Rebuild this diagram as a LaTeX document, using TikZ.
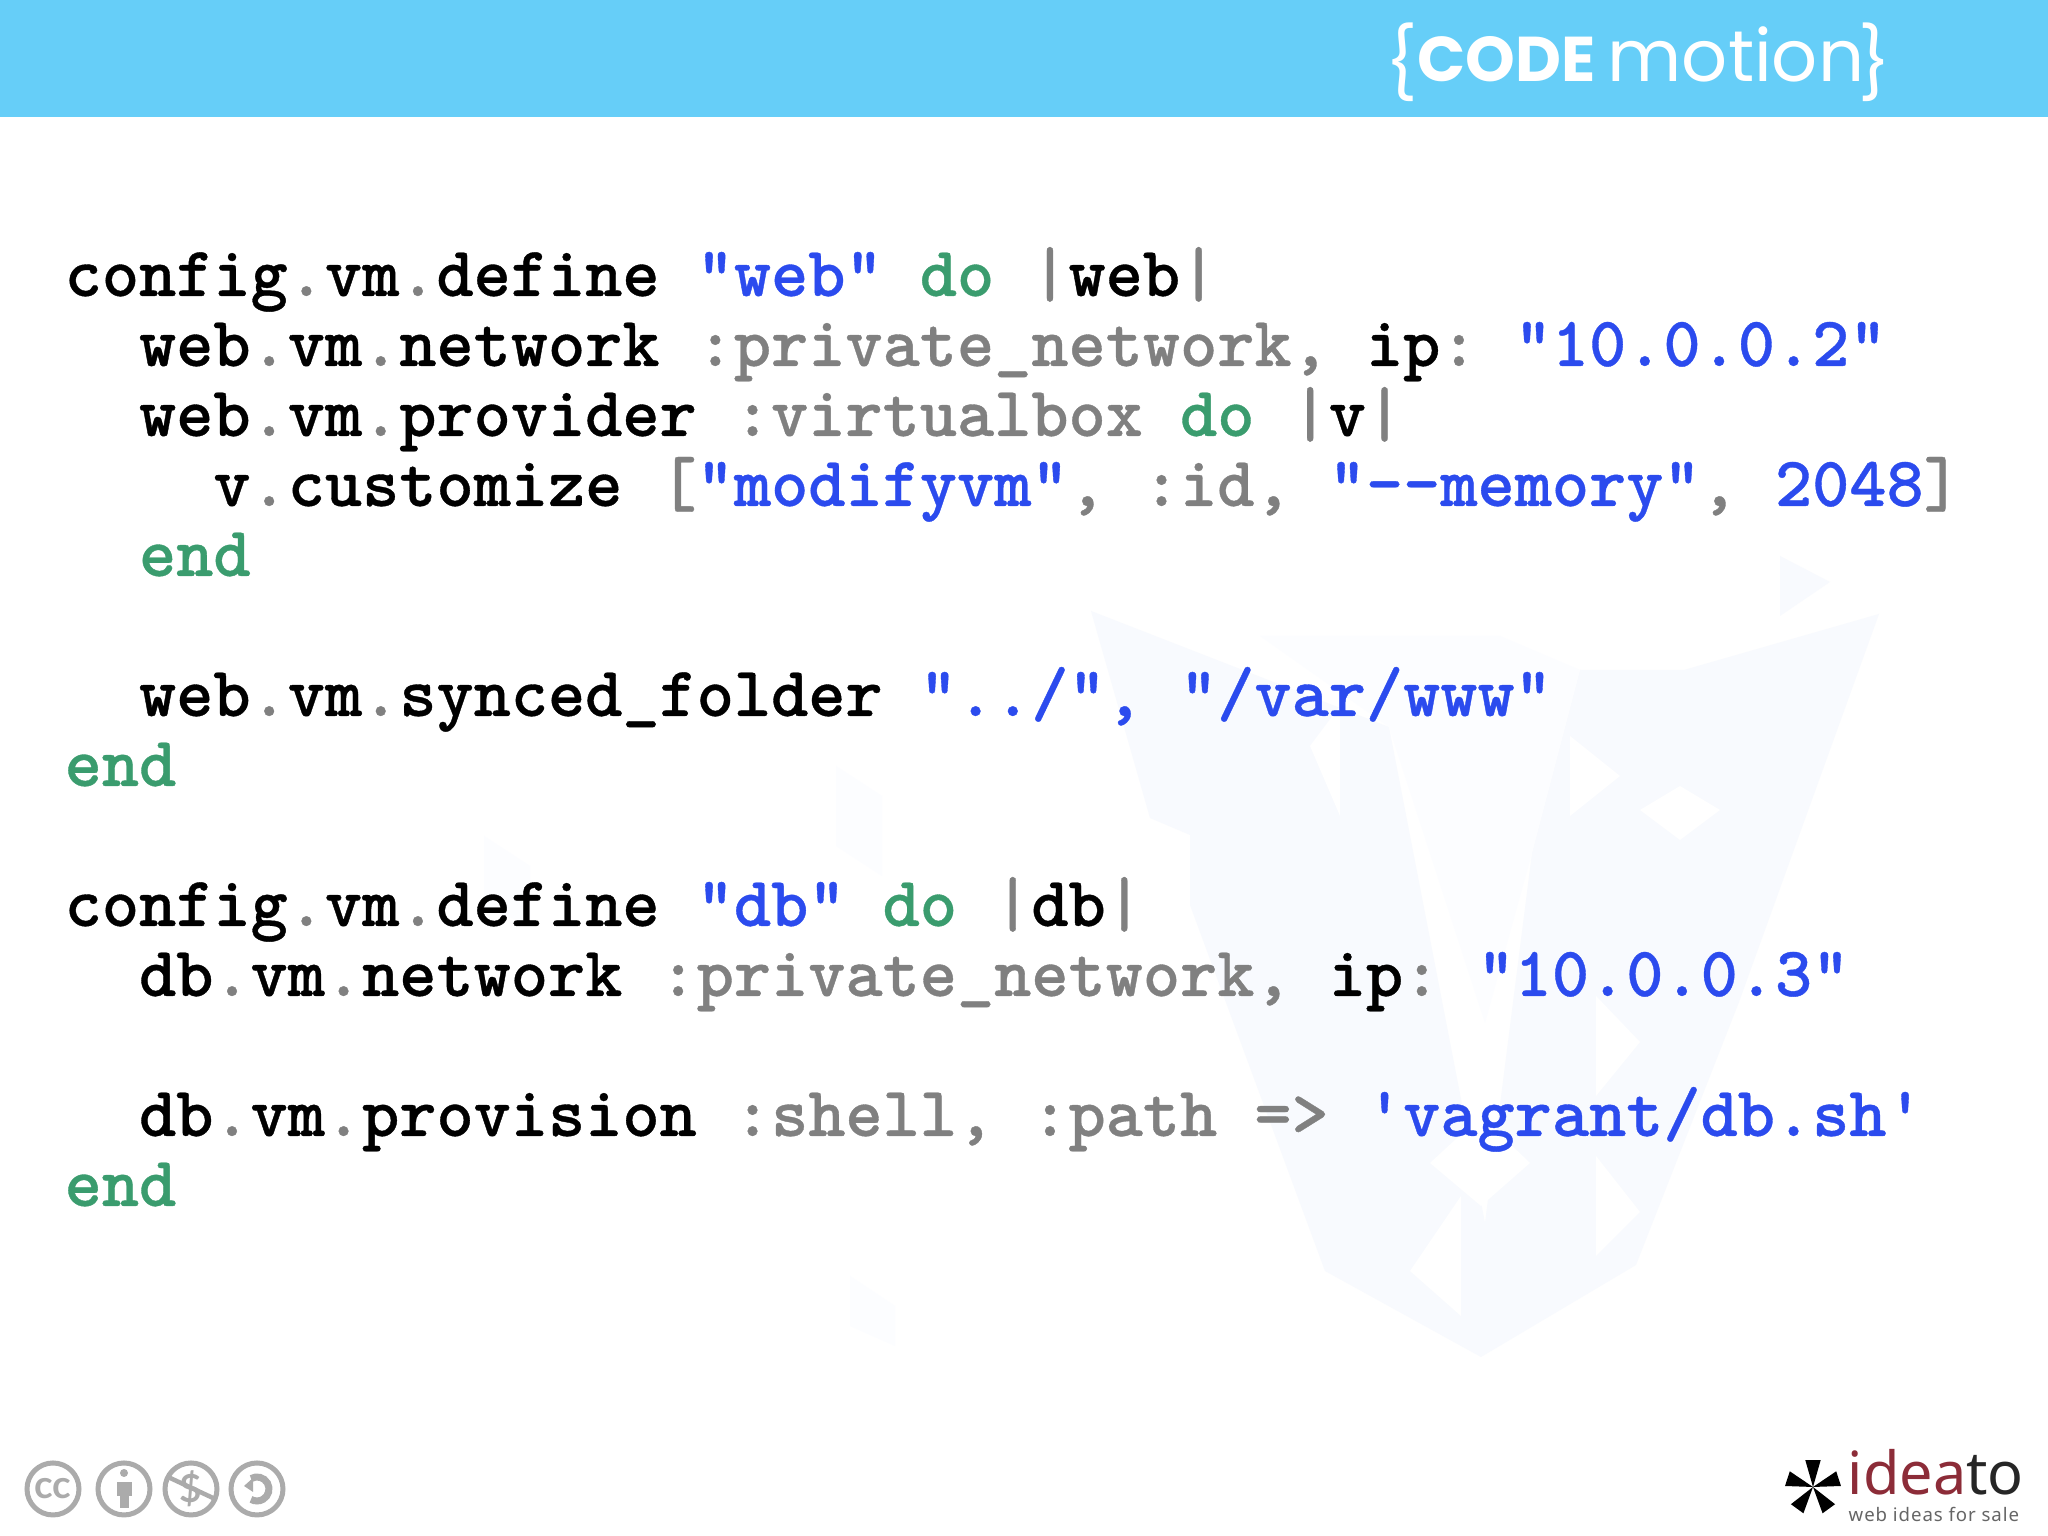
\documentclass[tikz,border=0pt]{standalone}
\usepackage{fontspec}
\setsansfont{Lato}
\setmonofont{Latin Modern Mono Light}[BoldFeatures={FakeBold=0.5}]
\newfontfamily\logofont{Poppins}
\newfontfamily\ideatofont{Noto Sans}
\definecolor{bandblue}{HTML}{66CEF8}
\definecolor{strblue}{HTML}{2B4BEE}
\definecolor{kwgreen}{HTML}{3A9C6E}
\definecolor{pugray}{HTML}{808080}
\definecolor{iconGray}{HTML}{ABABAB}
\definecolor{ideatored}{HTML}{8C2C38}
\definecolor{markA}{HTML}{F8FAFE}
\definecolor{markB}{HTML}{FCFDFF}
\newcommand{\pu}[1]{\textcolor{pugray}{#1}}
\newcommand{\st}[1]{\textcolor{strblue}{#1}}
\newcommand{\kw}[1]{\textcolor{kwgreen}{#1}}
\newcommand{\dt}{\pu{.}}
\tikzset{
  codeline/.style={anchor=base west,inner sep=0pt,font=\fontsize{20.15}{24}\selectfont\ttfamily\bfseries},
  logotext/.style={inner sep=0pt,text=white,anchor=base west},
  ccicon/.style={draw=iconGray,line width=0.5mm},
  ccfill/.style={fill=iconGray},
  whitemark/.style={fill=white,draw=none}
}
\begin{document}
\begin{tikzpicture}
\useasboundingbox (0,0) rectangle (20.48,15.36);
\fill[white] (0,0) rectangle (20.48,15.36);
% watermark
\fill[markA] (10.91,9.25) -- (11.50,7.18) -- (11.90,7.01) -- (11.90,6.31) -- (13.25,2.65) -- (14.81,1.79) -- (16.36,2.71) -- (17.39,5.34) -- (18.79,9.22) -- (16.84,8.66) -- (15.80,8.66) -- (15.32,6.83) -- (14.85,3.13) -- (13.89,8.09) -- cycle;
\fill[markB] (12.6,9.0) -- (13.89,8.09) -- (14.85,5.13) -- (15.32,6.83) -- (15.8,8.66) -- (15.0,9.0) -- cycle;
\fill[whitemark] (16.8,7.5) -- (17.2,7.26) -- (16.8,6.96) -- (16.4,7.26) -- cycle;
\fill[whitemark] (13.1,7.9) -- (13.4,8.3) -- (13.4,7.2) -- cycle;
\fill[whitemark] (15.7,8.0) -- (16.2,7.6) -- (15.7,7.2) -- cycle;
\fill[whitemark] (15.96,5.4) -- (16.4,4.94) -- (15.96,4.4) -- cycle;
\fill[whitemark] (14.81,4.2) -- (15.3,3.73) -- (14.81,3.3) -- (14.3,3.73) -- cycle;
\fill[whitemark] (15.96,3.8) -- (16.4,3.24) -- (15.96,2.8) -- cycle;
\fill[whitemark] (14.61,3.4) -- (14.61,2.2) -- (14.1,2.65) -- cycle;
\fill[markA] (17.8,9.8) -- (18.3,9.54) -- (17.8,9.2) -- cycle;
\fill[markB] (8.36,7.7) -- (8.82,7.4) -- (8.82,6.6) -- (8.36,6.9) -- cycle;
\fill[markB] (4.84,7.0) -- (5.3,6.7) -- (5.3,6.1) -- (4.84,6.3) -- cycle;
\fill[markB] (8.5,2.6) -- (8.95,2.3) -- (8.95,1.9) -- (8.5,2.1) -- cycle;
% top band
\fill[bandblue] (0,14.19) rectangle (20.48,15.36);
\node[logotext,anchor=center,font=\logofont\fontsize{20}{20}\selectfont] (bopen) at (14.02,14.74) {\{};
\node[logotext,font=\logofont\bfseries\fontsize{18}{18}\selectfont] (logocode) at (14.17,14.54) {CODE};
\node[logotext,font=\logofont\fontsize{20.5}{20.5}\selectfont] (logomotion) at (16.07,14.54) {motion};
\node[logotext,anchor=center,font=\logofont\fontsize{20}{20}\selectfont] (bclose) at (18.75,14.74) {\}};
% code
\node[codeline] (l1) at (0.64,12.40) {config\dt vm\dt define \st{"web"} \kw{do} \pu{|}web\pu{|}};
\node[codeline] (l2) at (0.64,11.70) {\ \ web\dt vm\dt network \pu{:private\_network,} ip\pu{:} \st{"10.0.0.2"}};
\node[codeline] (l3) at (0.64,11.00) {\ \ web\dt vm\dt provider \pu{:virtualbox} \kw{do} \pu{|}v\pu{|}};
\node[codeline] (l4) at (0.64,10.30) {\ \ \ \ v\dt customize \pu{[}\st{"modifyvm"}\pu{,} \pu{:id,} \st{"-{}-memory"}\pu{,} \st{2048}\pu{]}};
\node[codeline] (l5) at (0.64,9.60) {\ \ \kw{end}};
\node[codeline] (l6) at (0.64,8.20) {\ \ web\dt vm\dt synced\_folder \st{"../", “/var/www"}};
\node[codeline] (l7) at (0.64,7.50) {\kw{end}};
\node[codeline] (l8) at (0.64,6.10) {config\dt vm\dt define \st{"db"} \kw{do} \pu{|}db\pu{|}};
\node[codeline] (l9) at (0.64,5.40) {\ \ db\dt vm\dt network \pu{:private\_network,} ip\pu{:} \st{"10.0.0.3"}};
\node[codeline] (l10) at (0.64,4.00) {\ \ db\dt vm\dt provision \pu{:shell,} \pu{:path =>} \st{'vagrant/db.sh'}};
\node[codeline] (l11) at (0.64,3.30) {\kw{end}};
% licence icons
\draw[ccicon] (0.53,0.47) circle (0.26);
\node[text=iconGray,inner sep=0pt,font=\sffamily\bfseries\fontsize{11}{11}\selectfont] (cctext) at (0.53,0.47) {cc};
\draw[ccicon] (1.24,0.47) circle (0.26);
\fill[ccfill] (1.24,0.63) circle (0.04);
\fill[ccfill] (1.17,0.54) rectangle (1.32,0.40);
\fill[ccfill] (1.20,0.40) rectangle (1.29,0.28);
\draw[ccicon] (1.91,0.47) circle (0.26);
\node[text=iconGray,inner sep=0pt,font=\sffamily\bfseries\fontsize{11}{11}\selectfont] (nctext) at (1.91,0.47) {\$};
\draw[iconGray,line width=0.45mm] (1.68,0.59) -- (2.13,0.38);
\draw[ccicon] (2.57,0.47) circle (0.26);
\draw[iconGray,line width=0.7mm] (2.51,0.574) arc (120:-120:0.12);
\fill[ccfill] (2.44,0.50) -- (2.53,0.58) -- (2.53,0.44) -- cycle;
% ideato logo
\foreach \a in {90,162,18,234,306}
  \fill[black] (18.13,0.49) -- +(\a+16:0.28) -- +(\a-16:0.28) -- cycle;
\node[text=black!85,inner sep=0pt,anchor=base west,font=\ideatofont\fontsize{16.9}{17}\selectfont] (ideatoname) at (18.47,0.41) {\textcolor{ideatored}{idea}to};
\node[text=black!60,inner sep=0pt,anchor=base west,font=\ideatofont\bfseries\fontsize{5.3}{6}\selectfont\addfontfeature{LetterSpace=5}] (ideatotag) at (18.48,0.14) {web ideas for sale};
\end{tikzpicture}
\end{document}
